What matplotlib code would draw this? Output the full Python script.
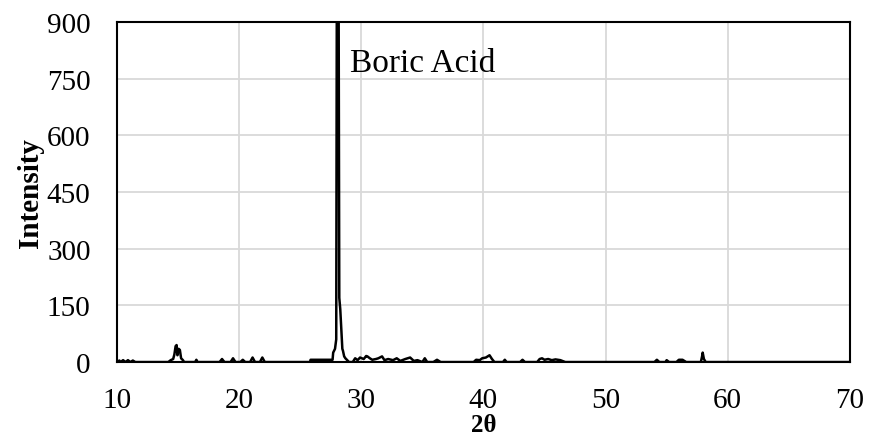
import numpy as np
import matplotlib.pyplot as plt

# XRD pattern of boric acid
two_theta = [
    10.0, 10.2, 10.3, 10.5, 10.7, 10.9, 11.1, 11.3, 11.5,
    14.2, 14.4, 14.6, 14.7, 14.8, 14.88, 14.95, 15.05, 15.15, 15.25, 15.4, 15.5,
    16.4, 16.5, 16.6,
    18.4, 18.6, 18.8, 19.3, 19.5, 19.7, 20.1, 20.3, 20.5, 20.9, 21.1, 21.3, 21.7, 21.9, 22.1,
    25.8, 25.85, 27.65, 27.7, 27.85, 27.95, 28.02, 28.08, 28.15, 28.2, 28.28, 28.45, 28.5,
    28.6, 28.7, 28.85, 29.0,
    29.3, 29.5, 29.7, 29.9, 30.2, 30.4, 30.5, 30.7, 30.9, 31.2, 31.4, 31.7, 31.9, 32.2,
    32.6, 32.9, 33.2, 33.6, 34.0, 34.3, 34.6, 35.0, 35.2, 35.4, 35.9, 36.2, 36.5,
    39.2, 39.4, 39.7, 39.9, 40.2, 40.5, 40.7, 40.9, 41.6, 41.75, 41.9, 43.0, 43.2, 43.4,
    44.4, 44.6, 44.8, 45.0, 45.3, 45.6, 45.9, 46.3, 46.7,
    54.0, 54.2, 54.4, 54.9, 55.0, 55.2, 55.8, 56.0, 56.3, 56.6, 57.8, 57.9, 57.95, 58.05, 58.2,
    70.0,
]
intensity = [
    0, 4, 0, 5, 0, 5, 0, 4, 0,
    0, 5, 8, 20, 42, 45, 18, 35, 32, 10, 5, 0,
    0, 6, 0,
    0, 8, 0, 0, 10, 0, 0, 6, 0, 0, 12, 0, 0, 12, 0,
    0, 6, 6, 25, 35, 60, 1400, 1800, 900, 170, 140, 35, 30,
    15, 10, 5, 0,
    0, 10, 5, 12, 8, 16, 15, 10, 6, 8, 10, 15, 5, 8,
    5, 10, 3, 8, 12, 3, 5, 0, 10, 0, 0, 6, 0,
    0, 6, 5, 10, 12, 18, 8, 0, 0, 6, 0, 0, 6, 0,
    0, 8, 10, 6, 8, 5, 7, 5, 0,
    0, 6, 0, 0, 5, 0, 0, 6, 6, 0, 0, 15, 25, 8, 0,
    0,
]

x_ticks = [10, 20, 30, 40, 50, 60, 70]
y_ticks = [0, 150, 300, 450, 600, 750, 900]

plt.rcParams['font.family'] = ['Liberation Serif', 'DejaVu Serif']

fig = plt.figure(figsize=(8.69, 4.39), dpi=100)
ax = fig.add_axes([0.1346, 0.173, 0.8434, 0.7746])

ax.plot(two_theta, intensity, color='black', linewidth=1.8)

ax.set_xlim(10, 70)
ax.set_ylim(0, 900)
ax.set_xticks(x_ticks)
ax.set_yticks(y_ticks)
ax.tick_params(length=0, labelsize=21)
ax.tick_params(axis='y', pad=19)
ax.tick_params(axis='x', pad=18)

ax.grid(color='#d9d9d9', linewidth=1.3)
ax.set_axisbelow(True)
for s in ax.spines.values():
    s.set_linewidth(1.5)

ax.set_xlabel('2θ', fontsize=18, fontweight='bold', labelpad=0)
ax.set_ylabel('Intensity', fontsize=21, fontweight='bold', labelpad=2)

ax.text(29.07, 770, 'Boric Acid', fontsize=24, ha='left', va='baseline')

fig.savefig('out.png', dpi=100)
